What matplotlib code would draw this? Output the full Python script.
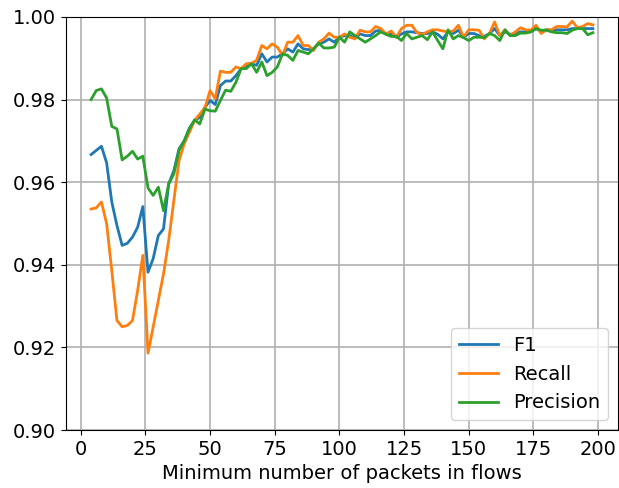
import numpy as np
import matplotlib
matplotlib.use("Agg")
import matplotlib.pyplot as plt

plt.rcParams['font.size'] = 14

min_packets = list(range(4, 200, 2))

f1 = [0.9667, 0.9677, 0.9687, 0.9647, 0.9552, 0.9495, 0.9447, 0.9452, 0.9467, 0.9491,
      0.9541, 0.9382, 0.9415, 0.9471, 0.9487, 0.9596, 0.9628, 0.9681, 0.9700, 0.9731,
      0.9749, 0.9757, 0.9781, 0.9798, 0.9788, 0.9834, 0.9845, 0.9845, 0.9858, 0.9875,
      0.9879, 0.9887, 0.9883, 0.9911, 0.9891, 0.9903, 0.9903, 0.9911, 0.9923, 0.9915,
      0.9935, 0.9923, 0.9921, 0.9923, 0.9935, 0.9939, 0.9947, 0.9939, 0.9951, 0.9955,
      0.9955, 0.9949, 0.9959, 0.9955, 0.9955, 0.9966, 0.9968, 0.9959, 0.9958, 0.9951,
      0.9959, 0.9964, 0.9964, 0.9962, 0.9960, 0.9960, 0.9964, 0.9958, 0.9947, 0.9964,
      0.9960, 0.9968, 0.9951, 0.9960, 0.9960, 0.9955, 0.9953, 0.9960, 0.9972, 0.9955,
      0.9964, 0.9958, 0.9960, 0.9964, 0.9964, 0.9964, 0.9972, 0.9966, 0.9969, 0.9968,
      0.9969, 0.9969, 0.9969, 0.9972, 0.9972, 0.9972, 0.9972, 0.9972]

recall = [0.9535, 0.9538, 0.9552, 0.9500, 0.9386, 0.9265, 0.9250, 0.9253, 0.9265, 0.9338,
          0.9423, 0.9186, 0.9249, 0.9314, 0.9378, 0.9459, 0.9556, 0.9652, 0.9693, 0.9721,
          0.9749, 0.9765, 0.9780, 0.9822, 0.9802, 0.9869, 0.9866, 0.9866, 0.9879, 0.9875,
          0.9887, 0.9888, 0.9895, 0.9931, 0.9923, 0.9935, 0.9927, 0.9907, 0.9939, 0.9939,
          0.9955, 0.9931, 0.9931, 0.9919, 0.9939, 0.9947, 0.9961, 0.9951, 0.9951, 0.9959,
          0.9951, 0.9947, 0.9968, 0.9964, 0.9964, 0.9977, 0.9972, 0.9959, 0.9966, 0.9951,
          0.9972, 0.9980, 0.9980, 0.9962, 0.9958, 0.9964, 0.9969, 0.9969, 0.9966, 0.9964,
          0.9966, 0.9980, 0.9951, 0.9969, 0.9969, 0.9968, 0.9947, 0.9960, 0.9988, 0.9955,
          0.9969, 0.9955, 0.9964, 0.9974, 0.9969, 0.9968, 0.9980, 0.9960, 0.9969, 0.9969,
          0.9977, 0.9977, 0.9976, 0.9990, 0.9974, 0.9977, 0.9984, 0.9981]

precision = [0.9800, 0.9822, 0.9826, 0.9804, 0.9735, 0.9729, 0.9654, 0.9663, 0.9675, 0.9656,
             0.9663, 0.9586, 0.9568, 0.9588, 0.9531, 0.9596, 0.9620, 0.9677, 0.9700, 0.9729,
             0.9751, 0.9741, 0.9777, 0.9773, 0.9772, 0.9798, 0.9823, 0.9820, 0.9842, 0.9875,
             0.9875, 0.9887, 0.9866, 0.9891, 0.9858, 0.9866, 0.9879, 0.9911, 0.9907, 0.9895,
             0.9919, 0.9915, 0.9911, 0.9923, 0.9937, 0.9925, 0.9925, 0.9927, 0.9951, 0.9939,
             0.9964, 0.9955, 0.9947, 0.9939, 0.9947, 0.9955, 0.9964, 0.9958, 0.9953, 0.9953,
             0.9943, 0.9960, 0.9947, 0.9951, 0.9955, 0.9945, 0.9964, 0.9943, 0.9923, 0.9969,
             0.9947, 0.9955, 0.9950, 0.9943, 0.9951, 0.9951, 0.9950, 0.9960, 0.9955, 0.9943,
             0.9969, 0.9955, 0.9955, 0.9961, 0.9961, 0.9964, 0.9972, 0.9968, 0.9968, 0.9964,
             0.9962, 0.9962, 0.9960, 0.9968, 0.9972, 0.9972, 0.9957, 0.9962]

fig = plt.figure(figsize=(6.19, 4.88), dpi=100)
ax = fig.add_axes([66 / 619, 58 / 488, 552 / 619, 413 / 488])

ax.plot(min_packets, f1, label='F1', linewidth=2)
ax.plot(min_packets, recall, label='Recall', linewidth=2)
ax.plot(min_packets, precision, label='Precision', linewidth=2)

ax.set_ylim(0.90, 1.00)
ax.set_xticks([0, 25, 50, 75, 100, 125, 150, 175, 200])
ax.set_xlabel('Minimum number of packets in flows')
ax.grid(True, color='#b0b0b0', linewidth=1.2)
ax.legend(loc='lower right')

fig.savefig('out.png', dpi=100)
